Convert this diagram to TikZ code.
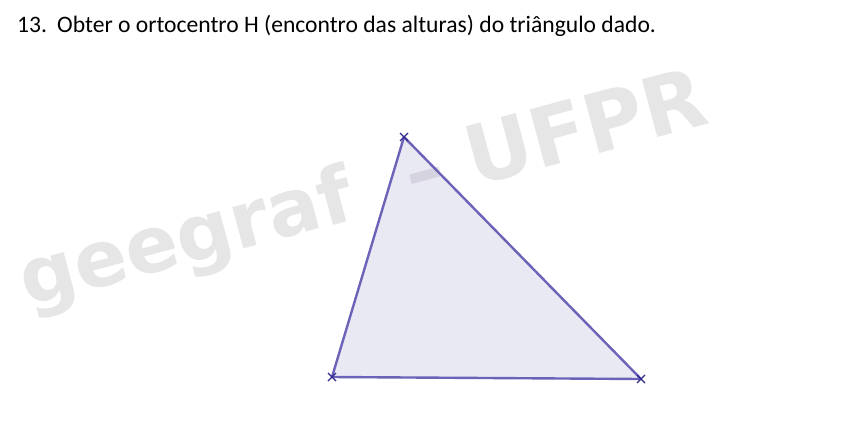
\documentclass[tikz,border=0pt]{standalone}
\usepackage{fontspec}
\usetikzlibrary{calc}
\setmainfont{Carlito}
\newfontfamily\wmfont{DejaVu Sans}
\definecolor{wmgray}{RGB}{230,230,230}
\definecolor{triline}{RGB}{106,99,184}
\definecolor{trifill}{RGB}{92,85,176}
\definecolor{markc}{RGB}{47,42,140}
\tikzset{
  tri/.style={draw=triline, line width=2.4pt, line join=round},
  vmark/.style={draw=markc, line width=1.3pt},
  title/.style={anchor=base west, inner sep=0pt, font=\fontsize{23.6}{26}\selectfont},
  wm/.style={inner sep=0pt, text=wmgray, rotate=15, font=\wmfont\bfseries\fontsize{78}{82}\selectfont},
  wmbig/.style={wm, font=\wmfont\bfseries\fontsize{82}{86}\selectfont}
}
\begin{document}
\begin{tikzpicture}[x=1pt,y=-1pt]
\useasboundingbox (0,0) rectangle (842,439);
\fill[white] (0,0) rectangle (842,439);
\node[title] (num) at (17,32) {13.};
\node[title] (ttl) at (57,32) {Obter o ortocentro H (encontro das alturas) do triângulo dado.};
\node[wm, anchor=base west] (wm1) at (27,307) {geegraf};
\node[wm, anchor=base] (wm2) at (431,196) {–};
\node[wmbig, anchor=base west] (wm3) at (474,187) {UFPR};
\coordinate (A) at (404,137);
\coordinate (B) at (332,377);
\coordinate (C) at (641,379);
\fill[trifill, fill opacity=0.13] (A) -- (B) -- (C) -- cycle;
\draw[tri] (A) -- (B) -- (C) -- cycle;
\foreach \p in {A,B,C}{
  \draw[vmark] ($(\p)+(-4,-4)$) -- ($(\p)+(4,4)$);
  \draw[vmark] ($(\p)+(-4,4)$) -- ($(\p)+(4,-4)$);
}
\end{tikzpicture}
\end{document}
